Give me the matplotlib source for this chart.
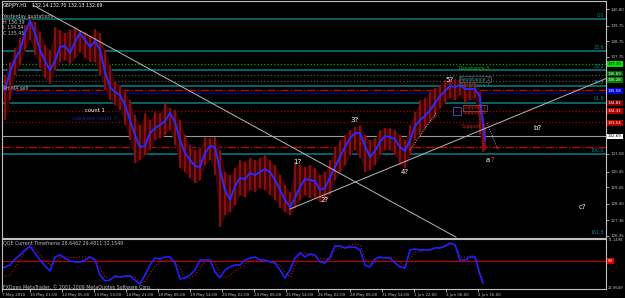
import matplotlib
matplotlib.use("Agg")
import matplotlib.pyplot as plt

# ── price data (GBPJPY H1, sampled every 5 bars) ─────────────────────────────
bar_x = list(range(5, 485, 5)) + [483, 485]

ma = [135.64, 136.79, 137.61, 138.19, 139.27, 140.04, 139.27, 138.19, 137.49, 136.91,
      137.49, 138.38, 138.44, 138.00, 138.70, 139.27, 138.82, 138.38, 138.76, 138.19,
      136.79, 135.83, 135.51, 135.32, 134.69, 133.73, 132.78, 132.01, 132.08, 132.90,
      133.22, 133.41, 133.67, 134.18, 133.61, 132.46, 131.63, 131.19, 130.80, 130.74,
      131.63, 132.08, 132.01, 130.55, 129.28, 128.64, 129.53, 130.04, 129.97, 130.36,
      130.23, 130.42, 130.61, 130.42, 129.91, 129.28, 128.64, 128.19, 128.77, 129.47,
      129.97, 129.91, 129.85, 129.28, 129.40, 130.10, 130.74, 131.38, 132.01, 132.58,
      132.90, 132.90, 132.08, 131.38, 131.76, 132.33, 132.71, 132.65, 132.52, 132.01,
      131.76, 132.46, 133.35, 133.73, 133.99, 134.37, 134.81, 135.26, 135.58, 135.90,
      135.83, 135.96, 135.71, 135.71, 135.71, 135.20, 133.41, 132.46]

highs = [136.60, 137.42, 138.31, 138.95, 139.78, 140.29, 139.97, 139.33, 138.51, 138.19,
         139.65, 139.46, 139.27, 139.46, 139.65, 139.46, 139.33, 139.08, 139.52, 139.27,
         138.19, 137.23, 136.15, 135.96, 135.51, 135.00, 134.05, 133.41, 134.18, 133.73,
         134.24, 134.18, 134.81, 134.50, 134.37, 133.73, 132.78, 132.14, 131.82, 131.95,
         132.65, 132.58, 132.65, 131.82, 130.42, 130.23, 130.68, 131.19, 131.06, 131.31,
         131.19, 131.31, 131.50, 131.19, 130.87, 130.23, 129.59, 129.15, 131.06, 130.87,
         130.74, 130.87, 130.68, 130.23, 130.42, 131.19, 131.95, 132.46, 132.78, 133.10,
         133.29, 133.41, 132.78, 132.46, 132.58, 133.10, 133.22, 133.22, 133.10, 132.78,
         132.46, 133.41, 134.24, 135.00, 135.13, 135.51, 135.77, 135.96, 136.28, 136.28,
         136.34, 136.28, 136.15, 136.09, 136.15, 135.51, 133.86, 133.29]

lows = [133.73, 135.00, 136.60, 137.23, 138.19, 138.82, 137.87, 137.04, 136.40, 136.02,
        136.91, 137.42, 137.55, 137.30, 137.68, 138.06, 137.68, 137.42, 137.42, 136.60,
        135.64, 135.00, 134.69, 134.37, 133.41, 132.46, 130.99, 131.19, 131.50, 131.82,
        132.46, 132.58, 132.78, 133.10, 132.14, 130.68, 130.42, 130.04, 129.72, 129.91,
        130.87, 131.19, 130.23, 126.92, 127.68, 127.87, 128.32, 128.96, 128.83, 129.28,
        129.15, 129.40, 129.28, 128.96, 128.64, 128.13, 127.87, 127.68, 128.13, 128.64,
        128.96, 128.77, 128.77, 128.51, 128.64, 128.96, 129.91, 130.42, 130.87, 131.50,
        131.82, 131.31, 130.42, 130.55, 130.87, 131.50, 131.82, 131.82, 131.50, 130.87,
        130.68, 131.50, 132.46, 132.78, 133.22, 133.61, 133.86, 134.50, 134.88, 135.13,
        135.00, 135.32, 134.88, 135.00, 135.13, 132.78, 131.69, 131.82]

# ── QQE indicator ────────────────────────────────────────────────────────────
qqe_x = [2] + list(range(5, 480, 5)) + [478, 480, 483]

qqe_fast = [43.2, 44.2, 46.1, 51.9, 55.7, 60.6, 64.4, 57.7, 50.9, 45.1,
            40.3, 53.8, 55.7, 52.8, 49.9, 49.0, 49.0, 50.9, 53.8, 50.9,
            36.5, 30.7, 31.6, 35.5, 34.5, 35.5, 35.5, 31.6, 27.8, 36.5,
            46.1, 52.8, 51.9, 53.8, 53.8, 48.0, 32.6, 33.6, 36.5, 41.3,
            50.9, 50.9, 50.9, 39.3, 33.6, 41.3, 44.2, 46.1, 46.1, 50.9,
            52.8, 53.8, 50.9, 50.9, 49.0, 48.0, 41.3, 33.6, 41.3, 52.8,
            57.7, 53.8, 56.7, 55.7, 49.0, 48.0, 53.8, 64.4, 64.4, 62.5,
            63.4, 63.4, 60.6, 46.1, 44.2, 51.9, 53.8, 52.8, 52.8, 48.0,
            44.2, 43.2, 60.6, 61.5, 60.6, 60.6, 60.6, 62.5, 62.5, 64.4,
            67.3, 65.4, 50.9, 50.9, 53.8, 53.8, 43.2, 36.5, 28.6]

qqe_slow = [34.5, 35.5, 36.5, 43.2, 50.9, 58.6, 63.4, 62.5, 55.7, 50.9,
            46.1, 48.0, 53.8, 53.8, 53.8, 52.8, 53.8, 53.8, 53.8, 51.9,
            43.2, 34.5, 33.6, 33.6, 34.5, 34.5, 35.5, 34.5, 28.7, 30.7,
            37.4, 45.1, 49.0, 50.9, 50.9, 49.0, 43.2, 33.6, 33.6, 36.5,
            43.2, 49.0, 50.9, 48.0, 38.4, 33.6, 36.5, 40.3, 43.2, 47.1,
            49.9, 50.9, 49.0, 49.9, 49.9, 48.0, 46.1, 39.3, 34.5, 45.1,
            57.7, 57.7, 55.7, 53.8, 52.8, 51.9, 51.9, 60.6, 62.5, 62.5,
            65.4, 66.3, 65.4, 52.8, 47.1, 48.0, 52.8, 53.8, 53.8, 52.8,
            49.0, 44.2, 52.8, 58.6, 58.6, 60.6, 61.5, 62.5, 63.4, 63.4,
            66.3, 65.4, 53.8, 53.8, 54.8, 54.8, 46.1, 39.3, 29.5]

# ── levels ───────────────────────────────────────────────────────────────────
fib_names = ["0.0", "23.6", "38.2", "50.0", "61.8", "100.0", "161.8"]
fib_prices = [140.16, 138.13, 136.91, 135.88, 134.84, 131.58, 126.35]

level_prices = [137.30, 136.60, 136.22, 135.64, 135.45, 134.31, 133.58, 132.01, 140.23]
level_colors = ["#00b000", "#505050", "#505050", "#d00000", "#000090", "#a00000", "#a00000", "#d00000", "#404040"]
level_styles = [":", ":", ":", "-.", "-", ":", ":", "-.", ":"]

box_prices = [137.30, 136.69, 136.28, 135.58, 134.82, 134.31, 133.54]
box_colors = ["#00e000", "#006400", "#008000", "#0000e0", "#800000", "#b00000", "#b00000"]

bid = 132.69
yticks = [140.80, 139.75, 138.75, 137.75, 131.58, 130.45, 129.45, 128.40, 127.36, 126.35]

waves = ["1?", "2?", "3?", "4?", "5?", "b?", "c?"]
wave_x = [297, 325, 355, 405, 450, 537, 582]
wave_p = [131.06, 128.64, 133.73, 130.42, 136.28, 133.22, 128.19]

time_labels = ["7 May 2010", "10 May 21:00", "12 May 05:00", "13 May 13:00", "14 May 21:00",
               "18 May 06:00", "19 May 14:00", "20 May 22:00", "24 May 06:00", "25 May 14:00",
               "26 May 22:00", "28 May 06:00", "31 May 14:00", "1 Jun 22:00", "3 Jun 06:00",
               "4 Jun 16:00"]

W, H = 625, 298
FG = "#c0c0c0"
TEAL = "#0a7f80"
FS = 3.4
FR = 2.9   # right scale / time axis

fig = plt.figure(figsize=(W / 100, H / 100), dpi=100, facecolor="black")

ax = fig.add_axes([2 / W, 1 - 237.5 / H, 604 / W, 236.5 / H], facecolor="black")
axq = fig.add_axes([2 / W, 1 - 289 / H, 604 / W, 50 / H], facecolor="black")

for a in (ax, axq):
    a.set_xlim(2, 606)
    for s in a.spines.values():
        s.set_color(FG)
        s.set_linewidth(0.8)

ax.set_ylim(126.254, 141.31)
axq.set_ylim(22.96, 71.15)

# horizontal levels
for p in fib_prices[:-1]:
    ax.axhline(p, color=TEAL, lw=1.1, zorder=1)
for p, c, ls in zip(level_prices, level_colors, level_styles):
    ax.axhline(p, color=c, lw=0.9, ls=ls, zorder=1)
ax.axhline(bid, color="#9a9a9a", lw=0.8, zorder=1)

# bars + moving average
ax.fill_between(bar_x, lows, highs, color="#3c0505", lw=0, zorder=2)
ax.vlines(bar_x, lows, highs, color="#a01212", lw=1.1, zorder=2)
ax.plot(bar_x, ma, color="#2a2aff", lw=1.4, zorder=3)

# trend lines
ax.plot([33, 456], [141.05, 126.28], color="#b8b8b8", lw=0.7, zorder=4)
ax.plot([290, 606], [128.07, 136.37], color="#b8b8b8", lw=0.7, zorder=4)
ax.plot([410, 436], [131.82, 134.18], color="#d0d0d0", lw=0.6, ls=":", zorder=4)
ax.plot([487, 498], [133.54, 131.82], color="#d0d0d0", lw=0.6, ls=":", zorder=4)

# fib labels
for n, p in zip(fib_names, fib_prices):
    ax.text(604, p + 0.08, n, color=TEAL, fontsize=FS, ha="right", va="bottom")

# wave counts
for w, x, p in zip(waves, wave_x, wave_p):
    ax.text(x, p, w, color="white", fontsize=5, ha="center", va="center")
ax.text(490, 131.19, "a", color="white", fontsize=5, ha="right", va="center")
ax.text(490, 131.19, "?", color="#ff3030", fontsize=5, ha="left", va="center")

ax.text(85, 134.37, "count 1", color="white", fontsize=3.8, va="center")
ax.text(72, 133.86, "subwave count ?", color="#2020b0", fontsize=3.8, va="center")

# support / resistance labels
ax.text(474, 137.04, "Resistance 3", color="#00c000", fontsize=FS, ha="center", va="center")
ax.text(475, 136.34, "Resistance 2", color="#40a0a0", fontsize=FS, ha="center", va="center",
        bbox=dict(boxstyle="square,pad=0.15", fc="none", ec="#606060", lw=0.5))
ax.text(475, 135.96, "Resistance 1", color="#208080", fontsize=FS, ha="center", va="center")
ax.text(475, 134.50, "Support 1", color="#d02020", fontsize=FS, ha="center", va="center",
        bbox=dict(boxstyle="square,pad=0.15", fc="none", ec="#806060", lw=0.5))
ax.text(475, 134.18, "Support 2", color="#d02020", fontsize=FS, ha="center", va="center")
ax.text(474, 133.35, "Support 3", color="#d02020", fontsize=FS, ha="center", va="center")
ax.add_patch(plt.Rectangle((453, 134.05), 8, 0.5, fill=False, ec="#5050d0", lw=0.6, zorder=5))

# header texts
ax.text(3, 141.05, "GBPJPY,H1", color="white", fontsize=FS, va="center")
ax.text(32, 141.05, "132.14 132.70 132.13 132.69", color="white", fontsize=FS, va="center")
ax.text(3, 140.35, "Yesterday quotations", color=FG, fontsize=FS, va="center")
ax.text(3, 139.97, "H 136.39", color=FG, fontsize=FS, va="center")
ax.text(3, 139.65, "L 134.54", color=FG, fontsize=FS, va="center")
ax.text(3, 139.27, "C 135.45", color=FG, fontsize=FS, va="center")
ax.text(3, 135.77, "4H MA sell", color=FG, fontsize=FS, va="center")

# right price scale
ax.yaxis.tick_right()
ax.set_yticks(yticks, [f"{v:.2f}" for v in yticks])
ax.tick_params(axis="y", colors=FG, labelsize=FR, length=2, width=0.6, pad=1)
ax.set_xticks([])
for p, c in zip(box_prices, box_colors):
    ax.text(608, p, f"{p:.2f}", color="white" if c != "#00e000" else "black", fontsize=FR,
            va="center", ha="left", bbox=dict(boxstyle="square,pad=0.2", fc=c, ec="none"))
ax.text(608, bid, f"{bid:.2f}", color="black", fontsize=FR, va="center", ha="left",
        bbox=dict(boxstyle="square,pad=0.2", fc="white", ec="none"))

# QQE panel
axq.axhline(50, color="#b00000", lw=0.9)
axq.plot(qqe_x, qqe_slow, color="#c01010", lw=0.8, ls=":")
axq.plot(qqe_x, qqe_fast, color="#2020ff", lw=1.2)
axq.yaxis.tick_right()
axq.set_yticks([])
axq.text(608, 70.2, "71.1498", color=FG, fontsize=2.7, va="center")
axq.text(608, 24.2, "22.9649", color=FG, fontsize=2.7, va="center")
axq.text(608, 50, "50", color="white", fontsize=FR, va="center",
         bbox=dict(boxstyle="square,pad=0.2", fc="#e00000", ec="none"))
axq.text(3, 67.5, "QQE Current Timeframe 28.6462 29.4811 32.1549", color=FG, fontsize=FS, va="center")
axq.text(3, 25.0, "FXOpen MetaTrader, \u00a9 2001-2009 MetaQuotes Software Corp.", color=FG,
         fontsize=FS, va="center")

tick_x = [2] + [30 + 32 * k for k in range(15)]
axq.set_xticks(tick_x, time_labels, ha="left")
axq.tick_params(axis="x", colors=FG, labelsize=FR, length=2, width=0.6, pad=1)

fig.savefig("out.png", dpi=100, facecolor="black")
